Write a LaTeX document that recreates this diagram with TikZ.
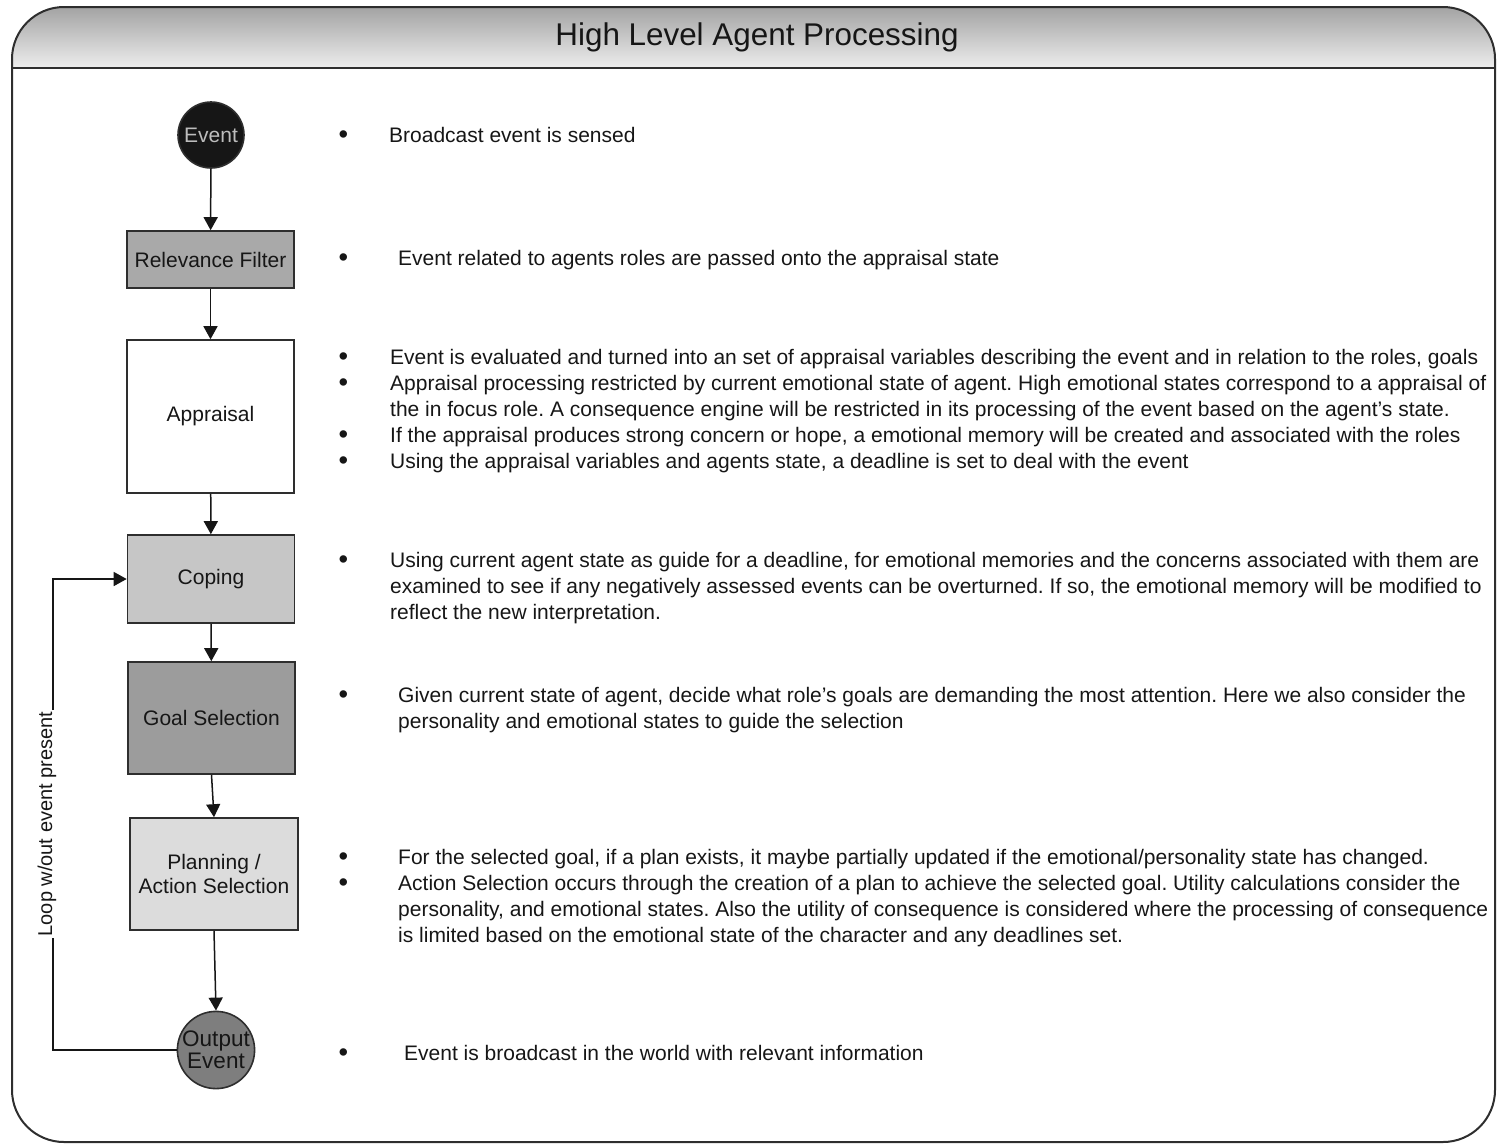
\documentclass[tikz,border=0pt]{standalone}
\usepackage{fontspec}
\setmainfont{Liberation Sans}
\usetikzlibrary{arrows.meta}
\frenchspacing

\definecolor{ink}{HTML}{161616}
\definecolor{rim}{HTML}{2E2E2E}
\definecolor{fillfilter}{HTML}{A9A9A9}
\definecolor{fillcoping}{HTML}{C6C6C6}
\definecolor{fillgoal}{HTML}{9C9C9C}
\definecolor{fillplan}{HTML}{DCDCDC}
\definecolor{filloutput}{HTML}{7E7E7E}
\definecolor{eventtext}{HTML}{BDBDBD}

% a slightly enlarged list bullet
\newcommand{\listdot}{\raisebox{-0.08em}{\scalebox{1.3}{\textbullet}}}

\tikzset{
  framebox/.style={draw=rim, line width=2pt, rounded corners=52pt},
  stagebox/.style={draw=rim, line width=1.6pt, minimum width=167pt,
    inner sep=0pt, align=center, text=ink,
    font=\fontsize{21}{23.5}\selectfont},
  roundstage/.style={circle, draw=rim, line width=1.6pt, inner sep=0pt,
    align=center, font=\fontsize{21}{21}\selectfont},
  flow/.style={draw=ink, line width=1.5pt, -{Triangle[length=13pt,width=14pt]}},
  notes/.style={anchor=base west, inner sep=0pt, text=ink,
    font=\fontsize{21}{26}\selectfont},
}

\begin{document}
\begin{tikzpicture}[x=1pt, y=-1pt]
\useasboundingbox (0,0) rectangle (1497,1144);

% outer frame with shaded title band
\begin{scope}
  \clip[rounded corners=52pt] (12,7) rectangle (1495,1142);
  \shade[top color=black!36, bottom color=black!7] (12,7) rectangle (1495,68);
\end{scope}
\draw[framebox] (12,7) rectangle (1495,1142);
\draw[rim, line width=2pt] (12,68) -- (1495,68);
\node[font=\fontsize{31.4}{33}\selectfont, text=ink] (title) at (757,37) {High Level Agent Processing};

% processing stages
\node[roundstage, fill=ink, text=eventtext, minimum size=66pt] (event) at (211,135) {Event};
\node[stagebox, fill=fillfilter, minimum height=57pt] (filter) at (210.5,259.5) {Relevance Filter};
\node[stagebox, fill=white, minimum height=153pt] (appraisal) at (210.5,416.5) {Appraisal};
\node[stagebox, fill=fillcoping, minimum height=88pt] (coping) at (211,579) {Coping};
\node[stagebox, fill=fillgoal, minimum height=112pt] (goal) at (211.5,718) {Goal Selection};
\node[stagebox, fill=fillplan, minimum height=112pt, minimum width=168pt] (plan) at (214,874) {Planning /\\Action Selection};
\node[roundstage, fill=filloutput, text=ink, minimum size=74pt,
      font=\fontsize{22.5}{22}\selectfont] (output) at (216,1050) {Output\\Event};

% flow between stages
\draw[flow] (event) -- (filter);
\draw[flow] (filter) -- (appraisal);
\draw[flow] (appraisal) -- (coping);
\draw[flow] (coping) -- (goal);
\draw[flow] (goal.south) -- (plan.north);
\draw[flow] (plan.south) -- (output.north);

% loop back to coping when no new event arrives
\coordinate (loopcorner) at (53,1050);
\draw[flow] (output.west) -- (loopcorner) |- (coping.west);
\node[fill=white, inner sep=1.5pt, rotate=90, text=ink,
      font=\fontsize{20}{22}\selectfont] (looplabel) at (47,824) {Loop w/out event present};

% descriptions
\node[notes] (n-event) at (338.3,142) {\begin{tabular}[t]{@{}p{50.7pt}@{}l@{}}
\listdot & Broadcast event is sensed
\end{tabular}};

\node[notes] (n-filter) at (338.3,265) {\begin{tabular}[t]{@{}p{59.7pt}@{}l@{}}
\listdot & Event related to agents roles are passed onto the appraisal state
\end{tabular}};

\node[notes] (n-appraisal) at (338.3,364) {\begin{tabular}[t]{@{}p{51.7pt}@{}l@{}}
\listdot & Event is evaluated and turned into an set of appraisal variables describing the event and in relation to the roles, goals\\
\listdot & Appraisal processing restricted by current emotional state of agent. High emotional states correspond to a appraisal of\\
 & the in focus role. A consequence engine will be restricted in its processing of the event based on the agent's state.\\
\listdot & If the appraisal produces strong concern or hope, a emotional memory will be created and associated with the roles\\
\listdot & Using the appraisal variables and agents state, a deadline is set to deal with the event
\end{tabular}};

\node[notes] (n-coping) at (338.3,567) {\begin{tabular}[t]{@{}p{51.7pt}@{}l@{}}
\listdot & Using current agent state as guide for a deadline, for emotional memories and the concerns associated with them are\\
 & examined to see if any negatively assessed events can be overturned. If so, the emotional memory will be modified to\\
 & reflect the new interpretation.
\end{tabular}};

\node[notes] (n-goal) at (338.3,702) {\begin{tabular}[t]{@{}p{59.7pt}@{}l@{}}
\listdot & Given current state of agent, decide what role's goals are demanding the most attention. Here we also consider the\\
 & personality and emotional states to guide the selection
\end{tabular}};

\node[notes] (n-plan) at (338.3,864) {\begin{tabular}[t]{@{}p{59.7pt}@{}l@{}}
\listdot & For the selected goal, if a plan exists, it maybe partially updated if the emotional/personality state has changed.\\
\listdot & Action Selection occurs through the creation of a plan to achieve the selected goal. Utility calculations consider the\\
 & personality, and emotional states. Also the utility of consequence is considered where the processing of consequence\\
 & is limited based on the emotional state of the character and any deadlines set.
\end{tabular}};

\node[notes] (n-output) at (338.3,1060) {\begin{tabular}[t]{@{}p{65.7pt}@{}l@{}}
\listdot & Event is broadcast in the world with relevant information
\end{tabular}};
\end{tikzpicture}
\end{document}
